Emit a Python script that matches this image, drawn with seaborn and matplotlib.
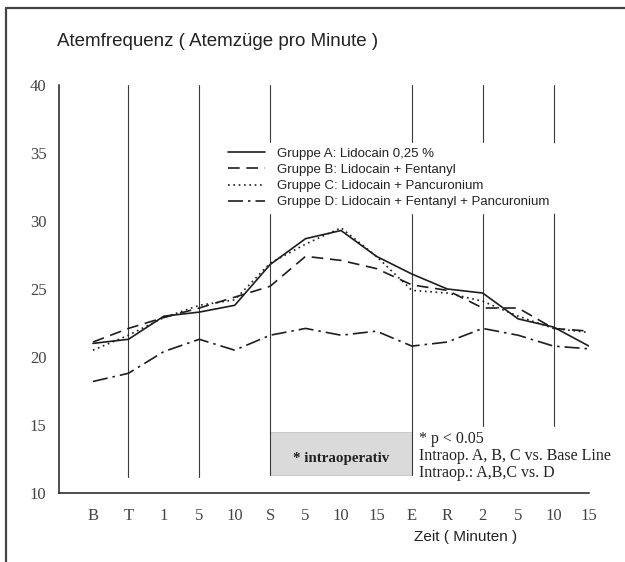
import numpy as np
import pandas as pd
import seaborn as sns
import matplotlib.pyplot as plt
from matplotlib.lines import Line2D
from matplotlib.patches import Rectangle

# Zeitpunkte (x-Achse)
zeit_labels = ["B", "T", "1", "5", "10", "S", "5", "10", "15", "E", "R", "2", "5", "10", "15"]

# Atemfrequenz je Gruppe
gruppe_a = [21.0, 21.3, 23.0, 23.3, 23.8, 26.8, 28.7, 29.3, 27.4, 26.1, 25.0, 24.7, 22.8, 22.2, 20.8]
gruppe_b = [21.1, 22.1, 22.9, 23.6, 24.4, 25.2, 27.4, 27.1, 26.5, 25.3, 24.9, 23.6, 23.6, 22.1, 21.9]
gruppe_c = [20.5, 21.6, 22.9, 23.8, 24.2, 26.9, 28.3, 29.5, 27.4, 24.9, 24.7, 24.1, 23.0, 22.1, 21.8]
gruppe_d = [18.2, 18.8, 20.4, 21.3, 20.5, 21.6, 22.1, 21.6, 21.9, 20.8, 21.1, 22.1, 21.6, 20.8, 20.6]

gruppen = [
    "Gruppe A: Lidocain 0,25 %",
    "Gruppe B: Lidocain + Fentanyl",
    "Gruppe C: Lidocain + Pancuronium",
    "Gruppe D: Lidocain + Fentanyl + Pancuronium",
]

# senkrechte Hilfslinien (Index, unteres Ende)
vlinien_pos = [1, 3, 5, 9, 11, 13]
vlinien_ende = [11.2, 11.2, 11.3, 11.3, 14.9, 14.9]

rows = []
for name, werte in zip(gruppen, [gruppe_a, gruppe_b, gruppe_c, gruppe_d]):
    for i, w in enumerate(werte):
        rows.append({"pos": i, "wert": w, "Gruppe": name})
df = pd.DataFrame(rows)

sns.set_style("white")
plt.rcParams["font.family"] = ["Liberation Sans", "DejaVu Sans"]

fig = plt.figure(figsize=(6.25, 5.62), dpi=100)
ax = fig.add_axes([0.0944, 0.1228, 0.848, 0.726])

ink = "#1e1e1e"
dashes = {
    gruppen[0]: "",
    gruppen[1]: (7, 4),
    gruppen[2]: (1, 2.2),
    gruppen[3]: (9, 3, 1.5, 3),
}
sns.lineplot(data=df, x="pos", y="wert", style="Gruppe", dashes=dashes,
             color=ink, linewidth=1.2, ax=ax, legend=True)

# senkrechte Linien
for p, e in zip(vlinien_pos, vlinien_ende):
    ax.plot([p, p], [e, 40], color="#3a3a3a", linewidth=0.8, zorder=1)

# grauer Kasten "intraoperativ"
ax.add_patch(Rectangle((5, 11.3), 4, 3.2, facecolor="#dadada", edgecolor="#c4c4c4",
                       linewidth=0.6, zorder=0.5))
ax.text(7, 12.5, "* intraoperativ", ha="center", va="center", fontsize=10.8,
        fontweight="bold", family="Liberation Serif", color="#222222")

ax.text(9.2, 14.0, "* p < 0.05", fontsize=11.5, family="Liberation Serif",
        va="center", color="#222222")
ax.text(9.2, 12.7, "Intraop. A, B, C vs. Base Line", fontsize=11.5,
        family="Liberation Serif", va="center", color="#222222")
ax.text(9.2, 11.5, "Intraop.: A,B,C vs. D", fontsize=11.5,
        family="Liberation Serif", va="center", color="#222222")

ax.set_xlim(-0.96, 14)
ax.set_ylim(10, 40)
ax.set_xticks(range(len(zeit_labels)))
ax.set_xticklabels(zeit_labels)
ax.set_yticks([10, 15, 20, 25, 30, 35, 40])
ax.tick_params(direction="in", length=6, width=1, color=ink, labelsize=12,
               labelcolor="#444444")
ax.tick_params(axis="x", pad=11)
ax.tick_params(axis="y", pad=9)
for lab in ax.get_xticklabels() + ax.get_yticklabels():
    lab.set_family("Liberation Serif")

sns.despine(ax=ax)
ax.spines["left"].set_color(ink)
ax.spines["bottom"].set_color(ink)
ax.spines["left"].set_linewidth(1.1)
ax.spines["bottom"].set_linewidth(1.1)

ax.set_xlabel("")
ax.set_ylabel("")
fig.text(414 / 625, 1 - 537 / 562, "Zeit ( Minuten )", fontsize=11, va="center",
         color="#222222")
fig.text(57 / 625, 1 - 42 / 562, "Atemfrequenz ( Atemzüge pro Minute )",
         fontsize=13.5, va="center", color="#222222")

handles, labels = ax.get_legend_handles_labels()
leg = ax.legend(handles, labels, loc="center left", bbox_to_anchor=(0.309, 0.772),
                fontsize=9.5, frameon=True, handlelength=2.8, handletextpad=0.9,
                labelspacing=0.29, borderpad=0.4, borderaxespad=0)
leg.get_frame().set_facecolor("white")
leg.get_frame().set_edgecolor("white")
leg.get_frame().set_alpha(1)
leg.set_zorder(5)
for t in leg.get_texts():
    t.set_color("#222222")

# Rahmen links und oben
fig.add_artist(Line2D([6 / 625, 6 / 625], [0, 1 - 8 / 562], color="#444444",
                      linewidth=1.6, transform=fig.transFigure))
fig.add_artist(Line2D([6 / 625, 1], [1 - 8 / 562, 1 - 8 / 562], color="#444444",
                      linewidth=1.6, transform=fig.transFigure))

fig.savefig("out.png", dpi=100)
